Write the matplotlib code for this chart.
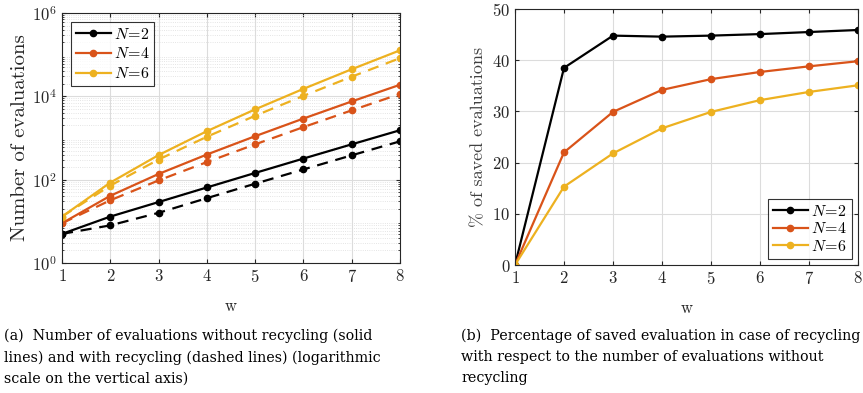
import numpy as np
import matplotlib
matplotlib.use("Agg")
import matplotlib.pyplot as plt

# data
w = [1, 2, 3, 4, 5, 6, 7, 8]
labels = ["$N\\!=\\!2$", "$N\\!=\\!4$", "$N\\!=\\!6$"]
colors = ["#000000", "#D95319", "#EDB120"]

# evaluations without recycling (solid)
full_n2 = [5, 13, 29, 65, 145, 321, 705, 1537]
full_n4 = [9, 41, 137, 401, 1105, 2929, 7537, 18945]
full_n6 = [13, 85, 389, 1457, 4865, 15121, 44689, 127105]
# evaluations with recycling (dashed)
rec_n2 = [5, 8, 16, 36, 80, 176, 384, 832]
rec_n4 = [9, 32, 96, 264, 704, 1824, 4608, 11392]
rec_n6 = [13, 72, 304, 1072, 3416, 10256, 29616, 82496]

# % of saved evaluations
saved_n2 = [0, 38.5, 44.8, 44.6, 44.8, 45.1, 45.5, 45.9]
saved_n4 = [0, 22.0, 29.9, 34.2, 36.3, 37.7, 38.8, 39.8]
saved_n6 = [0, 15.3, 21.8, 26.7, 29.9, 32.2, 33.8, 35.1]

plt.rcParams['mathtext.fontset'] = 'cm'
plt.rcParams['font.family'] = 'cmr10'
plt.rcParams['axes.formatter.use_mathtext'] = True

fig = plt.figure(figsize=(8.63, 3.93), dpi=100)
W, H = 863, 393
ax1 = fig.add_axes([62 / W, 1 - 263 / H, (400 - 62) / W, (263 - 13) / H])
ax2 = fig.add_axes([515 / W, 1 - 265 / H, (858 - 515) / W, (265 - 9) / H])

for full, rec, c, lab in zip([full_n2, full_n4, full_n6], [rec_n2, rec_n4, rec_n6], colors, labels):
    ax1.plot(w, full, '-o', color=c, lw=1.6, ms=4.5, label=lab)
    ax1.plot(w, rec, '--o', color=c, lw=1.6, ms=4.5, dashes=(5, 3.5))
ax1.set_yscale('log')
ax1.set_ylim(1, 1e6)
ax1.set_xlim(1, 8)
ax1.set_yticks([1, 1e2, 1e4, 1e6])
ax1.set_ylabel("Number of evaluations", fontsize=15, color='#262626', labelpad=2)
ax1.set_xlabel("w", fontsize=12, color='#262626', labelpad=10)
ax1.grid(True, which='major', color='#dcdcdc', lw=0.8)
ax1.grid(True, which='minor', axis='y', color='#dcdcdc', lw=0.6, ls=':')
leg1 = ax1.legend(loc='upper left', fontsize=11.5, handlelength=2.2, fancybox=False,
                  edgecolor='black', borderaxespad=0.55, labelspacing=0.3, handletextpad=0.2,
                  borderpad=0.3)
leg1.get_frame().set_linewidth(0.8)

for s, c, lab in zip([saved_n2, saved_n4, saved_n6], colors, labels):
    ax2.plot(w, s, '-o', color=c, lw=1.6, ms=4.5, label=lab)
ax2.set_xlim(1, 8)
ax2.set_ylim(0, 50)
ax2.set_yticks([0, 10, 20, 30, 40, 50])
ax2.set_ylabel("% of saved evaluations", fontsize=13, color='#404040', labelpad=4)
ax2.set_xlabel("w", fontsize=12, color='#262626', labelpad=10)
ax2.grid(True, color='#dcdcdc', lw=0.8)
leg2 = ax2.legend(loc='lower right', fontsize=11.5, handlelength=2.2, fancybox=False,
                  edgecolor='black', borderaxespad=0.4, labelspacing=0.15, handletextpad=0.2,
                  borderpad=0.3)
leg2.get_frame().set_linewidth(0.8)

for ax in (ax1, ax2):
    ax.set_xticks(w)
    ax.tick_params(which='both', direction='in', top=True, right=True, labelsize=12,
                   colors='#262626', length=3)
    ax.tick_params(which='minor', length=1.5)
    for sp in ax.spines.values():
        sp.set_color('#262626')
        sp.set_linewidth(0.8)
    ax.set_axisbelow(True)

cap = dict(fontsize=10.3, family='DejaVu Serif', va='top', ha='left', linespacing=1.6)
fig.text(4 / W, 1 - 329 / H,
         "(a)  Number of evaluations without recycling (solid\n"
         "lines) and with recycling (dashed lines) (logarithmic\n"
         "scale on the vertical axis)", **cap)
fig.text(461 / W, 1 - 329 / H,
         "(b)  Percentage of saved evaluation in case of recycling\n"
         "with respect to the number of evaluations without\n"
         "recycling", **cap)

fig.savefig("out.png", dpi=100)
